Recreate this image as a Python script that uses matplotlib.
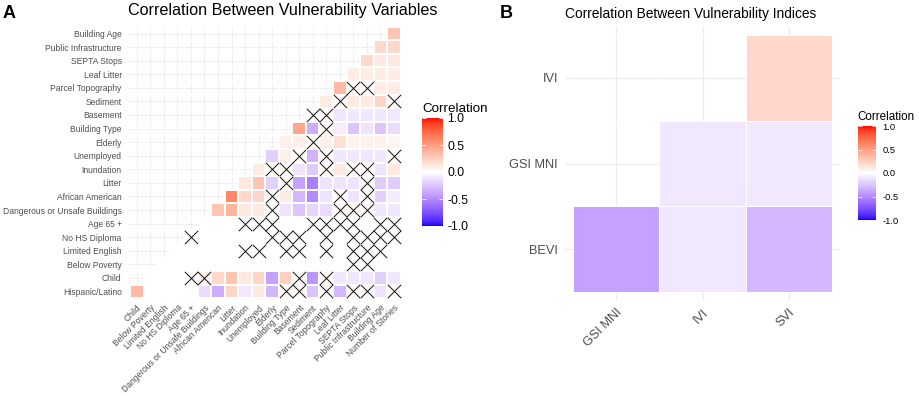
import numpy as np
import matplotlib
matplotlib.use("Agg")
import matplotlib.pyplot as plt
from matplotlib.colors import ListedColormap, Normalize
from matplotlib.cm import ScalarMappable

plt.rcParams['font.family'] = ['Liberation Sans', 'DejaVu Sans']

# ---------------- data: panel A ----------------
x_vars_a = ["Child", "Below Poverty", "Limited English", "No HS Diploma", "Age 65 +",
            "Dangerous or Unsafe Buildings", "African American", "Litter", "Inundation",
            "Unemployed", "Elderly", "Building Type", "Basement", "Sediment",
            "Parcel Topography", "Leaf Litter", "SEPTA Stops", "Public Infrastructure",
            "Building Age", "Number of Stories"]
y_vars_a = ["Hispanic/Latino", "Child", "Below Poverty", "Limited English", "No HS Diploma",
            "Age 65 +", "Dangerous or Unsafe Buildings", "African American", "Litter",
            "Inundation", "Unemployed", "Elderly", "Building Type", "Basement", "Sediment",
            "Parcel Topography", "Leaf Litter", "SEPTA Stops", "Public Infrastructure",
            "Building Age"]

# each row: correlations with the x variables that come after it
row_hispanic_latino = [0.35, 0.00, 0.00, 0.00, 0.00, -0.15, -0.35, 0.22, -0.10, 0.12,
                       -0.30, 0.02, 0.03, -0.25, 0.02, -0.30, 0.02, 0.02, -0.12, 0.02]
row_child = [0.00, 0.00, 0.00, 0.02, 0.08, 0.20, 0.30, 0.12, 0.22, -0.40,
             0.25, 0.02, -0.45, 0.02, -0.10, -0.10, -0.10, -0.20, -0.10]
row_below_poverty = [0.00, 0.00, 0.00, 0.00, 0.00, 0.00, 0.00, 0.00, 0.00,
                     0.00, 0.00, 0.00, 0.00, 0.00, 0.00, 0.00, 0.00, 0.00]
row_limited_english = [0.00, 0.00, 0.00, 0.00, 0.00, 0.00, 0.00, 0.00, 0.00,
                       0.00, 0.00, 0.00, 0.00, 0.00, 0.00, 0.00, 0.00]
row_no_hs_diploma = [0.00, 0.00, 0.00, 0.00, 0.00, 0.00, 0.00, 0.00,
                     0.00, 0.00, 0.00, 0.00, 0.00, 0.00, 0.00, 0.00]
row_age_65 = [0.00, 0.00, 0.00, 0.00, 0.00, 0.00, 0.00, 0.00,
              0.00, 0.00, 0.00, 0.00, 0.00, 0.00, 0.00]
row_dangerous = [0.30, 0.38, 0.12, 0.12, 0.02, -0.12, -0.25, -0.18, -0.15, 0.02,
                 0.02, 0.02, -0.10, -0.10]
row_african_american = [0.60, 0.20, 0.22, 0.02, 0.10, -0.30, -0.50, -0.12, 0.02, -0.12,
                        0.02, -0.20, -0.08]
row_litter = [0.12, 0.30, -0.20, 0.02, -0.40, -0.55, -0.12, -0.12, -0.12, 0.02,
              -0.22, -0.22]
row_inundation = [0.10, 0.02, 0.02, -0.12, -0.22, 0.02, 0.12, 0.02, 0.02, -0.12, 0.12]
row_unemployed = [-0.20, 0.08, 0.02, -0.32, 0.02, -0.10, -0.10, -0.10, -0.10, 0.02]
row_elderly = [0.08, 0.08, 0.02, 0.08, 0.16, 0.07, 0.07, 0.07, 0.05]
row_building_type = [0.45, -0.35, 0.02, -0.08, -0.25, -0.12, -0.25, -0.15]
row_basement = [0.02, 0.02, -0.10, -0.10, -0.10, -0.10, -0.10]
row_sediment = [0.10, 0.02, 0.12, 0.12, 0.22, 0.02]
row_parcel_topography = [0.35, 0.02, 0.02, 0.10, 0.10]
row_leaf_litter = [0.10, 0.10, 0.10, 0.10]
row_septa_stops = [0.20, 0.12, 0.12]
row_public_infrastructure = [0.20, 0.20]
row_building_age = [0.30]

corr_rows_a = [row_hispanic_latino, row_child, row_below_poverty, row_limited_english,
               row_no_hs_diploma, row_age_65, row_dangerous, row_african_american,
               row_litter, row_inundation, row_unemployed, row_elderly,
               row_building_type, row_basement, row_sediment, row_parcel_topography,
               row_leaf_litter, row_septa_stops, row_public_infrastructure,
               row_building_age]

# non-significant cells: for each y row, the x variables (1-based position in x_vars_a)
insig_a = [
    [12, 13, 15, 17, 18, 20],
    [5, 6, 13, 15],
    [17, 18],
    [9, 10, 12, 13, 15, 17, 18, 19],
    [5, 11, 12, 13, 15, 17, 18, 19, 20],
    [9, 10, 11, 14, 15, 16, 17, 19, 20],
    [11, 16, 17, 18],
    [11, 16, 18],
    [12, 18],
    [11, 12, 15, 17, 18],
    [13, 15, 20],
    [14],
    [15],
    [14, 15],
    [16, 20],
    [17, 18],
    [], [], [], [],
]

# ---------------- data: panel B ----------------
x_vars_b = ["GSI MNI", "IVI", "SVI"]
y_vars_b = ["BEVI", "GSI MNI", "IVI"]
row_bevi = [-0.40, -0.10, -0.30]
row_gsi_mni = [-0.10, -0.10]
row_ivi = [0.20]
corr_rows_b = [row_bevi, row_gsi_mni, row_ivi]

cbar_ticks = [-1.0, -0.5, 0.0, 0.5, 1.0]

# ---------------- colour scale (Lab interpolation blue-white-red) ----------------
_M = np.array([[0.4124564, 0.3575761, 0.1804375],
               [0.2126729, 0.7151522, 0.0721750],
               [0.0193339, 0.1191920, 0.9503041]])
_W = np.array([0.95047, 1.0, 1.08883])


def srgb_to_lab(rgb):
    rgb = np.asarray(rgb, float)
    lin = np.where(rgb <= 0.04045, rgb / 12.92, ((rgb + 0.055) / 1.055) ** 2.4)
    xyz = lin @ _M.T / _W
    d = 6 / 29
    f = np.where(xyz > d ** 3, np.cbrt(xyz), xyz / (3 * d * d) + 4 / 29)
    return np.stack([116 * f[..., 1] - 16, 500 * (f[..., 0] - f[..., 1]),
                     200 * (f[..., 1] - f[..., 2])], axis=-1)


def lab_to_srgb(lab):
    lab = np.asarray(lab, float)
    fy = (lab[..., 0] + 16) / 116
    fx = fy + lab[..., 1] / 500
    fz = fy - lab[..., 2] / 200
    d = 6 / 29
    finv = lambda f: np.where(f > d, f ** 3, 3 * d * d * (f - 4 / 29))
    xyz = np.stack([finv(fx), finv(fy), finv(fz)], axis=-1) * _W
    lin = xyz @ np.linalg.inv(_M).T
    lin = np.clip(lin, 0, None)
    rgb = np.where(lin <= 0.0031308, 12.92 * lin, 1.055 * lin ** (1 / 2.4) - 0.055)
    return np.clip(rgb, 0, 1)


lab_low = srgb_to_lab([0, 0, 1])
lab_mid = srgb_to_lab([1, 1, 1])
lab_high = srgb_to_lab([1, 0, 0])
tt = np.linspace(-1, 1, 257)
labs = np.array([lab_mid + (-t) * (lab_low - lab_mid) if t < 0 else lab_mid + t * (lab_high - lab_mid)
                 for t in tt])
cmap = ListedColormap(lab_to_srgb(labs))
norm = Normalize(-1, 1)

# ---------------- figure ----------------
W, H = 920, 396
fig = plt.figure(figsize=(W / 100, H / 100), dpi=100)


def rect(x0, y0, x1, y1):
    return [x0 / W, 1 - y1 / H, (x1 - x0) / W, (y1 - y0) / H]


AXCOL = '#4D4D4D'
GRID = '#EBEBEB'


def matrix_from_rows(rows, ncol):
    m = np.full((len(rows), ncol), np.nan)
    for r, row in enumerate(rows):
        start = ncol - len(row)
        for k, v in enumerate(row):
            m[r, start + k] = v
    return np.ma.masked_invalid(m)


# ---- Panel A ----
axA = fig.add_axes(rect(128.4, 25.1, 402.3, 299.9))
nA = len(x_vars_a)
mA = matrix_from_rows(corr_rows_a, nA)
edges = np.arange(nA + 1) + 0.5
axA.pcolormesh(edges, edges, mA, cmap=cmap, norm=norm, edgecolors='white', linewidth=0.3, zorder=2)
xs, ys = [], []
for r, cols in enumerate(insig_a):
    for c in cols:
        xs.append(c)
        ys.append(r + 1)
axA.scatter(xs, ys, marker='x', s=92, c='#111111', linewidths=0.7, zorder=3)
axA.set_xlim(0.38, nA + 0.62)
axA.set_ylim(0.38, nA + 0.62)
axA.set_xticks(np.arange(1, nA + 1))
axA.set_xticklabels(x_vars_a, rotation=45, ha='right', va='top', rotation_mode='anchor')
axA.set_yticks(np.arange(1, nA + 1))
axA.set_yticklabels(y_vars_a)
axA.tick_params(axis='both', length=0, labelsize=6.15, labelcolor=AXCOL)
axA.tick_params(axis='y', pad=4.8)
axA.tick_params(axis='x', pad=2.4)
axA.grid(True, color=GRID, linewidth=0.55, zorder=0)
axA.set_axisbelow(True)
for s in axA.spines.values():
    s.set_visible(False)

fig.text(128 / W, 1 - 15 / H, "Correlation Between Vulnerability Variables",
         fontsize=11.6, ha='left', va='baseline', color='black')
fig.text(3 / W, 1 - 18.3 / H, "A", fontsize=13, fontweight='bold', ha='left', va='baseline')

# colorbar A
caxA = fig.add_axes(rect(421.7, 118, 443.3, 226))
cbA = fig.colorbar(ScalarMappable(norm=norm, cmap=cmap), cax=caxA)
cbA.outline.set_visible(False)
cbA.set_ticks(cbar_ticks)
cbA.set_ticklabels([f"{v:.1f}" for v in cbar_ticks])
caxA.tick_params(axis='y', direction='in', length=3.1, width=0.6, color='white',
                 left=True, right=True, labelsize=8.8, pad=2.7, labelcolor='black')
fig.text(422.7 / W, 1 - 112 / H, "Correlation", fontsize=9.6, ha='left', va='baseline')

# ---- Panel B ----
axB = fig.add_axes(rect(565.5, 27, 839.5, 300))
nB = len(x_vars_b)
mB = matrix_from_rows(corr_rows_b, nB)
edgesB = np.arange(nB + 1) + 0.5
axB.pcolormesh(edgesB, edgesB, mB, cmap=cmap, norm=norm, edgecolors='white', linewidth=0.4, zorder=2)
axB.set_xlim(0.41, nB + 0.59)
axB.set_ylim(0.41, nB + 0.59)
axB.set_xticks(np.arange(1, nB + 1))
axB.set_xticklabels(x_vars_b, rotation=45, ha='right', va='top', rotation_mode='anchor')
axB.set_yticks(np.arange(1, nB + 1))
axB.set_yticklabels(y_vars_b)
axB.tick_params(axis='both', length=0, labelsize=9.2, labelcolor=AXCOL)
axB.tick_params(axis='y', pad=5.4)
axB.tick_params(axis='x', pad=4.5)
axB.grid(True, color=GRID, linewidth=0.9, zorder=0)
axB.set_axisbelow(True)
for s in axB.spines.values():
    s.set_visible(False)

fig.text(565 / W, 1 - 18.3 / H, "Correlation Between Vulnerability Indices",
         fontsize=9.9, ha='left', va='baseline', color='black')
fig.text(500 / W, 1 - 18.3 / H, "B", fontsize=13, fontweight='bold', ha='left', va='baseline')

# colorbar B
caxB = fig.add_axes(rect(857.7, 126, 876, 220))
cbB = fig.colorbar(ScalarMappable(norm=norm, cmap=cmap), cax=caxB)
cbB.outline.set_visible(False)
cbB.set_ticks(cbar_ticks)
cbB.set_ticklabels([f"{v:.1f}" for v in cbar_ticks])
caxB.tick_params(axis='y', direction='in', length=2.6, width=0.5, color='white',
                 left=True, right=True, labelsize=6.7, pad=4.5, labelcolor='black')
fig.text(857.7 / W, 1 - 120 / H, "Correlation", fontsize=8.4, ha='left', va='baseline')

fig.savefig("out.png", dpi=100)
